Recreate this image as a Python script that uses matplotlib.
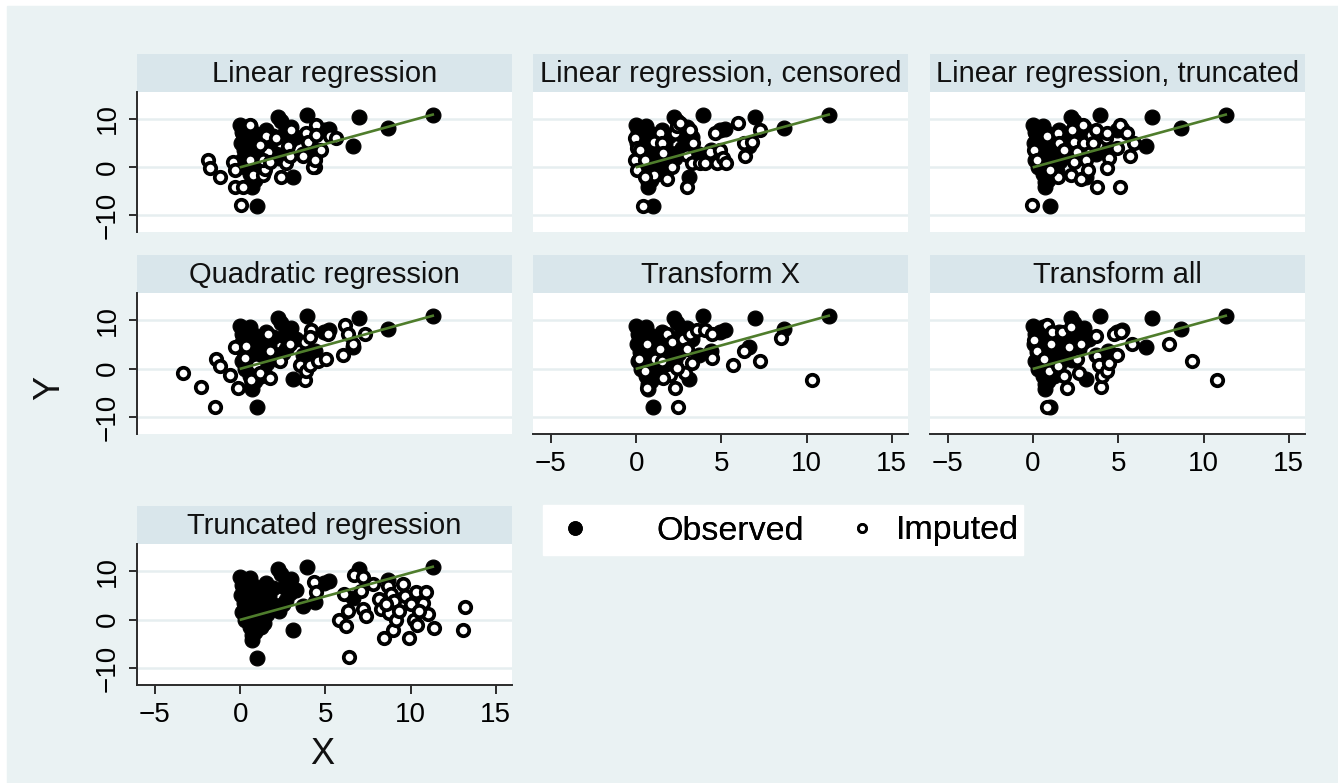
"""
    observed vs imputed values of Y against X, one panel per imputation method
"""

import matplotlib.pyplot as plt
from matplotlib.lines import Line2D
from matplotlib.patches import Rectangle

plt.rcParams['font.family'] = ['Liberation Sans', 'DejaVu Sans']

# observed points (same in every panel)
obs_x = [11.3, 8.7, 7.0, 6.6, 5.2, 4.9, 4.4, 3.9, 3.7, 3.0, 3.1, 2.9, 2.6, 2.4,
         2.2, 2.0, 2.3, 1.9, 1.7, 1.5, 1.4, 1.3, 1.2, 1.1, 1.0, 0.9, 0.9, 0.8,
         0.8, 0.7, 0.6, 0.6, 0.5, 0.5, 0.4, 0.3, 0.3, 0.2, 0.2, 0.1, 0.1, 0.05,
         0.0, 1.0, 1.6, 2.7, 3.3, 1.4, 0.7, 0.4, 0.15, 0.35, 1.2, 2.5, 0.9]
obs_y = [10.8, 8.2, 10.5, 4.4, 8.0, 7.6, 3.6, 10.8, 2.8, 8.3, -2.1, 5.5, 6.8,
         9.5, 10.4, 3.0, 1.8, 6.5, 4.8, 7.6, 2.2, 0.5, -1.5, 5.8, -8.0, 3.4,
         -2.6, 7.0, 1.0, -4.2, 8.5, -1.5, 4.8, 2.2, 6.2, 0.0, 8.0, 3.5, 5.5,
         7.2, 1.5, 5.0, 8.8, -0.5, 1.2, 4.0, 6.2, -0.8, -3.2, 3.0, 6.8, 4.2,
         4.0, 3.2, 6.2]

# fitted line on observed data
fit_x = [0.05, 11.3]
fit_y = [0.0, 10.9]

# imputed points, one pair of lists per method
lin_x = [-1.87, -1.78, -1.19, -0.41, -0.31, -0.31, 0.18, 0.08, 0.57, 0.57, 0.76,
         1.35, 1.45, 1.54, 1.64, 2.32, 2.42, 2.71, 2.81, 2.91, 3.0, 3.69, 3.89,
         3.98, 4.38, 4.38, 4.47, 4.47, 4.77, 5.25, 5.64, 2.13, 1.35, 1.15, 1.74,
         4.3, 4.4]
lin_y = [1.5, -0.3, -2.0, 1.1, -0.6, -4.1, -4.1, -7.8, 8.8, 1.5, -1.7, -1.7,
         -0.5, 6.4, 3.2, 5.0, -2.0, 0.8, 4.3, 2.2, 7.8, 2.2, 7.1, 5.3, 0.1, 1.8,
         8.8, 6.7, 3.6, 6.4, 6.0, 6.0, 1.5, 4.6, 1.1, 0.0, 1.5]

cens_x = [1.41, -0.06, 0.04, -0.06, 0.04, 0.43, 0.23, 0.53, 1.02, 1.5, 1.02,
          1.8, 2.09, 2.29, 2.38, 2.58, 3.16, 3.36, 2.97, 2.97, 3.26, 3.75, 4.04,
          4.34, 4.63, 4.73, 4.92, 5.1, 5.3, 6.0, 6.3, 6.4, 6.8, 7.27, 1.6, 0.53]
cens_y = [7.1, 6.0, 3.9, 1.5, -0.6, -8.0, 3.6, 1.5, 5.3, 5.0, -1.7, -2.4, 0.1,
          7.1, 8.5, 9.2, 7.8, 5.0, 2.5, -4.1, 0.8, 0.8, 0.8, 3.2, 7.1, 0.8, 3.6,
          1.8, 0.8, 9.2, 5.0, 2.2, 5.3, 7.8, 2.9, -2.0]

trunc_x = [0.06, 0.25, -0.04, 0.84, 1.43, 1.52, 1.82, 2.3, 2.4, 2.6, 2.9, 3.0,
           3.1, 3.4, 3.5, 3.67, 3.77, 4.26, 4.36, 4.45, 4.36, 4.94, 5.1, 5.1,
           5.5, 5.7, 5.9, 1.43, 2.2, 2.8, 3.2, 1.0, 2.4]
trunc_y = [3.6, 1.5, -7.8, 6.4, 7.1, 5.0, 3.6, 7.8, 5.3, 3.2, 8.8, 5.0, 1.5,
           6.7, 5.0, 7.8, -4.1, 6.0, 7.1, 1.8, -0.3, 3.9, 8.8, -4.1, 7.1, 2.2,
           5.0, -2.0, -1.7, -2.4, -0.6, -0.6, 1.1]

quad_x = [-3.34, -2.27, -1.48, -1.39, -1.19, -0.6, -0.31, -0.12, 0.37, 0.27,
          0.66, 0.96, 1.15, 1.64, 1.74, 1.74, 2.32, 2.9, 3.5, 3.8, 3.8, 3.89,
          4.08, 4.18, 4.08, 4.57, 5.06, 5.16, 6.13, 6.03, 6.6, 6.33, 7.3]
quad_y = [-0.9, -3.7, -7.9, 1.9, 0.5, -1.3, 4.4, -4.1, 4.7, 2.2, -2.3, 0.8,
          -0.9, 7.2, -2.0, 3.6, 1.5, 5.1, 0.8, 5.4, -2.3, -0.6, 0.8, 7.9, 6.5,
          1.5, 1.9, 7.2, 8.9, 2.9, 5.1, 7.2, 7.2]

tx_x = [0.14, 0.53, 0.62, 0.62, 1.11, 1.41, 1.8, 1.99, 2.09, 2.29, 2.48, 2.77,
        2.97, 3.16, 2.87, 3.26, 3.55, 4.04, 4.43, 4.43, 5.7, 6.3, 7.27, 8.5,
        10.3, 1.6, 2.4, 1.5]
tx_y = [1.9, -0.6, 5.1, -4.1, 1.9, 4.0, 7.2, -1.3, 5.4, -4.1, -7.9, 6.1, 4.0,
        7.2, -0.9, 1.2, 7.9, 7.9, 7.2, 2.2, 0.8, 3.6, 1.5, 6.4, -2.3, -2.0,
        0.1, 1.5]

tall_x = [0.06, 0.25, 0.64, 0.84, 0.84, 0.94, 1.04, 1.13, 1.43, 1.72, 1.82,
          2.0, 2.1, 2.2, 2.6, 2.7, 2.8, 3.67, 3.77, 3.87, 3.97, 4.06, 4.36,
          4.45, 4.75, 4.94, 5.14, 5.82, 7.97, 9.33, 10.8]
tall_y = [5.8, 3.6, 1.9, 8.9, -7.9, -0.6, 5.1, 7.5, 0.5, 7.5, -1.6, -4.1, 4.4,
          8.6, 1.9, -0.9, 5.1, 6.8, 2.6, 0.8, -3.7, -1.6, -0.6, 1.2, 7.2, 2.9,
          7.5, 5.1, 5.1, 1.5, -2.3]

treg_x = [4.36, 4.45, 5.82, 6.1, 6.2, 6.3, 6.4, 6.7, 7.2, 7.1, 7.2, 7.4, 7.77,
          8.16, 8.26, 8.46, 8.65, 8.75, 8.85, 8.95, 9.04, 9.14, 9.3, 9.53, 9.7,
          9.92, 10.0, 10.2, 10.3, 10.4, 10.7, 10.9, 11.0, 11.4, 13.05, 13.2,
          8.55, 10.5]
treg_y = [7.7, 5.6, 0.0, 5.3, -1.4, 1.8, -7.7, 9.2, 8.8, 6.0, 2.1, 0.7, 7.4,
          4.2, 2.1, -3.9, 7.0, 1.4, 5.3, -2.1, 3.9, 0.0, 1.8, 7.4, 4.9, -3.9,
          3.2, 0.0, 5.6, -1.1, 3.5, 5.6, 1.1, -1.8, -2.1, 2.5, 3.2, 1.8]

titles = ["Linear regression", "Linear regression, censored",
          "Linear regression, truncated", "Quadratic regression",
          "Transform X", "Transform all", "Truncated regression"]
imputed = [(lin_x, lin_y), (cens_x, cens_y), (trunc_x, trunc_y),
           (quad_x, quad_y), (tx_x, tx_y), (tall_x, tall_y), (treg_x, treg_y)]
xticks = [-5, 0, 5, 10, 15]
yticks = [-10, 0, 10]

W, H = 1338, 783
BG = '#eaf2f3'
STRIP = '#d9e6eb'
GRID = '#e6eef0'
AXC = '#2b2b2b'
GREEN = '#4f7d2c'


def px_rect(l, t, r, b):
    return [l / W, 1 - b / H, (r - l) / W, (b - t) / H]


fig = plt.figure(figsize=(W / 100, H / 100), dpi=100, facecolor='white')
fig.patches.append(Rectangle((7 / W, 0), 1 - 7 / W, 1 - 6 / H,
                             transform=fig.transFigure, color=BG, zorder=-10))

cols = [(137, 512), (533, 908), (930, 1305)]
rows = [(92, 232), (293, 434), (544, 685)]
# (col, row, y axis shown, x axis shown)
layout = [(0, 0, True, False), (1, 0, False, False), (2, 0, False, False),
          (0, 1, True, False), (1, 1, False, True), (2, 1, False, True),
          (0, 2, True, True)]

for title, (ix, iy), (c, r, showy, showx) in zip(titles, imputed, layout):
    L, R = cols[c]
    T, B = rows[r]

    sax = fig.add_axes(px_rect(L, T - 38, R, T))
    sax.set_facecolor(STRIP)
    sax.set_xticks([])
    sax.set_yticks([])
    for s in sax.spines.values():
        s.set_visible(False)
    sax.text(0.5, 0.47, title, ha='center', va='center', fontsize=21,
             color='#111111', transform=sax.transAxes)

    ax = fig.add_axes(px_rect(L, T, R, B))
    ax.set_facecolor('white')
    ax.set_xlim(-6.05, 15.95)
    ax.set_ylim(-13.5, 15.6)
    ax.set_xticks(xticks)
    ax.set_yticks(yticks)
    ax.yaxis.grid(True, color=GRID, lw=1.8)
    ax.set_axisbelow(True)
    for s in ax.spines.values():
        s.set_visible(False)
        s.set_color(AXC)
        s.set_linewidth(1.4)

    ax.scatter(obs_x, obs_y, s=115, c='black', edgecolors='black', lw=0.8,
               zorder=2)
    ax.scatter(ix, iy, s=68, facecolors='white', edgecolors='black', lw=2.7,
               zorder=3)
    ax.plot(fit_x, fit_y, color=GREEN, lw=1.9, zorder=4)

    ax.tick_params(axis='y', left=showy, labelleft=showy, length=5.8,
                   width=1.4, color=AXC, labelsize=20, pad=6,
                   labelrotation=90)
    ax.tick_params(axis='x', bottom=showx, labelbottom=showx, length=6.5,
                   width=1.4, color=AXC, labelsize=20, pad=6)
    for lab in ax.get_yticklabels():
        lab.set_va('center')
    if showy:
        ax.spines['left'].set_visible(True)
    if showx:
        ax.spines['bottom'].set_visible(True)

fig.text(50 / W, 1 - 388 / H, 'Y', rotation=90, ha='center', va='center',
         fontsize=26, color='#111111')
fig.text(322 / W, 1 - 755 / H, 'X', ha='center', va='center', fontsize=26,
         color='#111111')

# legend
fig.patches.append(Rectangle((543 / W, 1 - 555 / H), 480 / W, 50 / H,
                             transform=fig.transFigure, color='white',
                             zorder=-5))
h_obs = Line2D([], [], ls='none', marker='o', ms=9.5, mfc='black', mec='black')
h_imp = Line2D([], [], ls='none', marker='o', ms=5.8, mfc='white',
               mec='black', mew=2.0)
for h, lab, x0, pad in [(h_obs, 'Observed', 557.6, 1.89),
                        (h_imp, 'Imputed', 844.6, 0.51)]:
    lg = fig.legend([h], [lab], loc='center left',
                    bbox_to_anchor=(x0 / W, 1 - 531 / H), frameon=False,
                    fontsize=24.5, handlelength=1.0, handletextpad=pad,
                    borderpad=0, borderaxespad=0)
    fig.add_artist(lg)

fig.savefig('out.png', dpi=100, facecolor=fig.get_facecolor())
